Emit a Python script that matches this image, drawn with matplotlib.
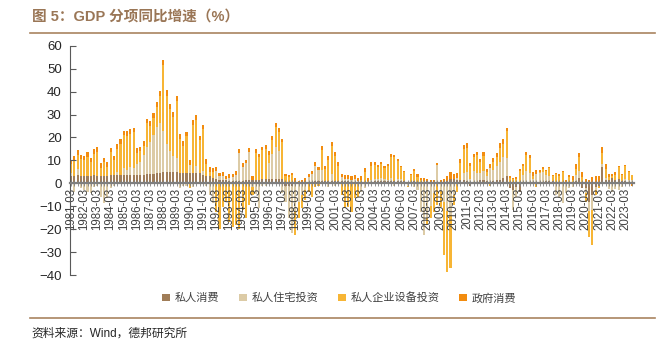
import numpy as np
import matplotlib
matplotlib.use("Agg")
import matplotlib.pyplot as plt
from matplotlib.ticker import FixedLocator, MultipleLocator

plt.rcParams['font.family'] = ['Liberation Sans', 'Noto Sans CJK SC']

# quarterly periods 1981-03 .. 2023-09
years = list(range(1981, 2024))
periods = [f"{y}-{m:02d}" for y in years for m in (3, 6, 9, 12)][:171]
tick_labels = [f"{y}-03" for y in years]

names = ["私人消费", "私人住宅投资", "私人企业设备投资", "政府消费"]
colors = ["#A07D58", "#DCCBA6", "#F7B535", "#F28C0F"]

consumption = [
    3, 3, 3.5, 3,  3, 3, 3, 3.5,  3, 3, 3, 3,  3.5, 3.5, 3.5, 3.5,  3.5, 3.5, 3.5, 3.5,
    3.5, 3.5, 3.5, 4,  4, 4, 4.5, 4.5,  5, 5, 5, 5,  5, 4.5, 4.5, 4.5,  4.5, 4.5, 4.5, 4.5,
    3.5, 3, 3, 2.5,  2, 1.5, 1.5, 1.5,  1, 1, 1, 1,  1, 1.5, 1.5, 1.5,  1.5, 1.5, 2, 2,
    2, 2, 2, 2,  2, -1, -1, -1,  0.5, 0, 0.3, 0.7,  0.5, 0.5, 1, 1,  1, 1, 1, 1,
    1, 1, 1, 1,  1, 0.5, 0.5, 0.5,  0.5, 0.5, 0.5, 0.5,  1, 1, 1, 1,  1, 1, 1, 1,
    1, 1, 0.5, 0.5,  1, 0.5, 0.5, 0.5,  0.9, 0.5, 0.3, 0.5,  -0.5, 0, 1, 2,  1.7, 1.5, 1.5, 1.5,
    1, -1, 0.5, 0.5,  1.5, 1.5, 1, 0.5,  1, 1.5, 1.5, 2.5,  3, -2.2, -3, -1.5,  -3.6, 0.5, 0.5, 0.5,
    -0.5, -0.5, 0.5, 0.5,  1, 1, 1, 0.5,  0.5, -0.5, 0.3, 0.5,  0.5, 1, 2.5, -2.2,  -2, -8, -5, -1.5,
    -1, 7, 1.5, 1.5,  2.5, 1.5, 2, 1,  1, 0.5, 0.5,
]
residential = [
    1.3, -3.6, 2.9, -2.2,  -2.9, -3.6, -4.4, -1.5,  -1, -5.8, -8.7, -6.6,  -2.2, -1, 1.5, -0.5,  3, 2.5, 3.5, 3,
    5, 6, 9, 12,  14, 17, 20, 22,  18, 12, 9, 7,  6, -2.2, -1, -1,  3.5, -1.5, 3, -0.5,
    2, -1, -5.1, -8.7,  3.5, 1.5, 1.8, 0.2,  1.5, 1.7, 2.7, 12.4,  6.2, 7.2, 12.2, -1.5,  -4.5, -10.9, -1, -1,
    7, 11, 14, 12,  -4.4, -7, -14.3, -20.8,  -12, -8, -5, -3,  2.2, 3.4, 6.7, 4.7,  5, -0.5, -1.5, 3,
    -1, -0.5, 1.7, 1.1,  1.1, 1, 1.5, 0.5,  -3.6, -2.2, -0.5, 1,  1, 1, 1.5, 1,  0.5, 1.5, -1, 1,
    1, -0.5, -1, -0.5,  -1.5, -3, -12.4, -22.6,  -15, -10, -4, 7.4,  -3, -8, -12, -14,  -5, 1, -0.5, 3,
    4, 2, 5, 4,  3, 4, 2, 6.3,  5, 6, 8, 9,  8, 0.5, -8.6, -4.3,  0.3, 3, 5, 4,
    2, 4.2, 4, 4.5,  2.5, 2, -0.5, -5.1,  -6.6, -8.2, -4.4, -2.2,  -1.5, 2.5, 3, 0,  -2, -4, -6.5, -1.5,
    0.5, 1.5, 0.8, -2.5,  -3.6, -2.5, -3, -1.5,  1, 1, 1,
]
equipment = [
    4, 7, 6, 7.5,  7, 8.5, 6.2, 9.3,  10.7, 3.8, 6.2, 4.2,  10.1, 6.5, 10, 13.7,  14.5, 14.8, 14.7, 15.8,
    4.8, 4.5, 4, 10.2,  7, 7.7, 8.8, 11.7,  28.5, 21, 18.5, 17,  25, 15, 11.8, 16,  -2.2, 21.1, 20.3, 14.3,
    18, 5.4, 2, 2.5,  -12.4, -19.7, -10.2, -8,  -16.7, -18.9, -18.2, -19.7,  -11.6, -15.3, -9.5, -3.6,  11.9, 10, 12.4, 13.1,
    3.5, 6, 8.6, 8.5,  15.9, 3.2, 2.6, 3.5,  -10.6, -7.3, -5.9, -4.3,  -3.6, -5.8, -1.5, -1,  8.7, 5.2, 9.3, 12.4,
    11.1, 6.7, -5.1, -10.9,  -10.2, -12.4, -6.6, -5.8,  1, 4.6, 0.5, 6.2,  6, 5, 6, 4.7,  6.1, 9.2, 10.4, 7.7,
    5.2, 3.9, -0.5, 3.2,  4.3, 2.4, 1, 0.7,  -3.2, -5.3, -8.4, -9.5,  -7, -23.3, -26.6, -23.1,  -4.5, -3.6, 7.2, 10.4,
    10.4, 5.4, 6, 7.8,  4.7, 6.6, 1.8, -1,  3.5, 3.8, 5.9, 5.7,  12, 2, 2, 2,  5, 4.1, 6.8, 6.4,
    1.3, -1, 0.5, 1.2,  2, 3.7, 2.1, 3.5,  2.9, 4.9, 0, 2.1,  1, 2.8, 5.8, 2.8,  -4, -11.3, -15.4, -2,
    -1.2, 4.9, 4, 1.2,  0.7, 2.3, 5, 2.7,  5.5, 3.4, 2.1,
]
government = [
    2, 2, 2, 2,  2, 2, 2, 2,  2, 2, 2, 2,  2, 2, 2, 2,  2, 2, 2, 2,
    2, 2, 2, 2,  2, 2, 2, 2,  2.5, 2.5, 2, 2,  2, 2, 2, 2,  2, 2, 2, 2,
    2, 2, 2, 1.5,  1.5, 1.5, 1.5, 1.5,  1.5, 1.5, 1.5, 1.5,  1.5, 1.5, 1.5, 1.5,  1.5, 1.5, 1.5, 1.5,
    1.5, 1.5, 1.5, 1.5,  1.5, 1, 1, 1,  1.7, 1, 1.3, 1.5,  1.5, 1.5, 1.5, 1.5,  1.5, 1.5, 1.5, 1.5,
    1.5, 1.5, 1.5, 1.5,  1.5, 1.5, 1.5, 1.2,  1.5, 1.5, 1.5, 1.5,  1.5, 1, 1, 1,  1, 1, 1, 1,
    0.5, 0.5, 0.3, 0.5,  1, 1, 1, 1,  1, 1.1, 1, 1,  1.3, 1.9, 2, 2.8,  2.5, 2, 2, 2,
    2, 1.5, 1.5, 1.5,  1.5, 1.5, 1.5, 1.5,  1.5, 2, 2, 2,  1, 0.5, 0.5, 0.8,  1, 1, 1.5, 1.5,
    1.5, 1.5, 1, 1,  0.5, 0.5, 0.5, 0.5,  0.5, 0.5, 1, 1,  1.5, 2, 2, 2,  1.9, 1.6, 2.8, 3.3,
    2.5, 2.5, 2, 1.5,  1, 1, 0.5, 0.5,  0.5, 0.5, -1,
]

series = [consumption, residential, equipment, government]
x = np.arange(len(periods))

fig = plt.figure(figsize=(6.65, 3.4), dpi=100)
ax = fig.add_axes([0.1053, 0.191, 0.848, 0.6744])

# stacked bars: positives build upwards, negatives downwards
pos_base = np.zeros(len(x))
neg_base = np.zeros(len(x))
for vals, name, col in zip(series, names, colors):
    v = np.array(vals, dtype=float)
    base = np.where(v >= 0, pos_base, neg_base)
    ax.bar(x, v, bottom=base, width=0.62, color=col, label=name, linewidth=0)
    pos_base += np.clip(v, 0, None)
    neg_base += np.clip(v, None, 0)

ax.set_xlim(-0.3, 170.6)
ax.set_ylim(-40, 60)
ax.yaxis.set_major_locator(MultipleLocator(10))

for s in ("top", "right"):
    ax.spines[s].set_visible(False)
ax.spines["left"].set_color("#595959")
ax.spines["left"].set_linewidth(0.8)
ax.spines["bottom"].set_position(("data", 0))
ax.spines["bottom"].set_color("#7F7F7F")
ax.spines["bottom"].set_linewidth(1.6)

ax.tick_params(axis="y", direction="in", length=4, width=0.8, color="#595959",
               labelsize=9.5, labelcolor="#262626", pad=6)
ax.xaxis.set_major_locator(FixedLocator(np.arange(0, len(x), 4)))
ax.xaxis.set_minor_locator(FixedLocator(np.arange(0, len(x), 1)))
ax.set_xticklabels(tick_labels)
ax.tick_params(axis="x", which="both", direction="inout", length=4, width=0.6,
               color="#7F7F7F")
ax.tick_params(axis="x", which="major", labelsize=8.3, labelcolor="#404040",
               labelrotation=90, pad=1)

fig.legend(loc="center", bbox_to_anchor=(0.51, 0.124), ncol=4, frameon=False,
           fontsize=8, handlelength=0.7, handleheight=0.7, handletextpad=0.4,
           columnspacing=1.8, labelcolor="#404040")

# header and footer
fig.text(0.048, 0.947, "图 5：GDP 分项同比增速（%）", fontsize=10.5, fontweight="bold",
         color="#9A7656", va="center")
fig.add_artist(plt.Line2D([0.045, 0.985], [0.903, 0.903], color="#A98460", lw=1.2))
fig.add_artist(plt.Line2D([0.045, 0.985], [0.065, 0.065], color="#A98460", lw=1.2))
fig.text(0.048, 0.018, "资料来源：Wind，德邦研究所", fontsize=8.5, color="#262626",
         va="center")

fig.savefig("out.png", dpi=100)
